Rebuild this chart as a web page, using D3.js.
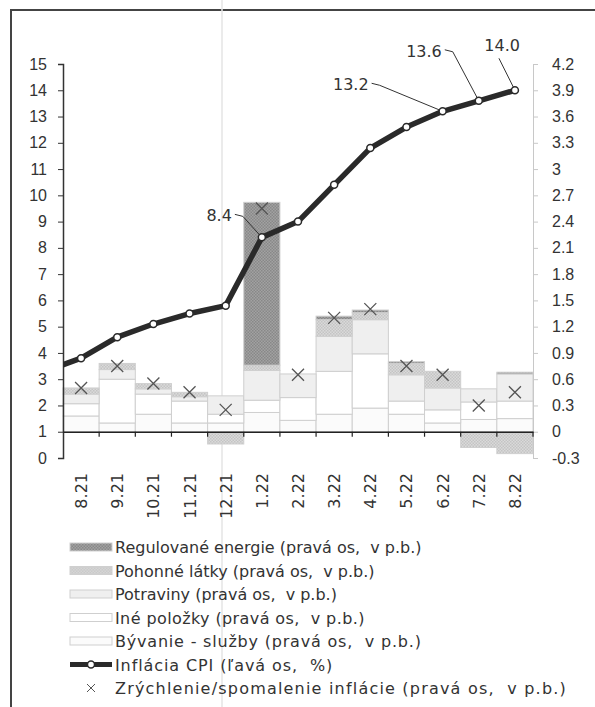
<!DOCTYPE html>
<html>
<head>
<meta charset="utf-8">
<script src="https://d3js.org/d3.v7.min.js"></script>
<style>
    html, body { margin: 0; padding: 0; background: #fff; }
    svg { display: block; font-family: "DejaVu Sans", Verdana, sans-serif; }
    .tick text { font-size: 16px; fill: #333; }
    .leg { font-size: 16px; fill: #333; white-space: pre; }
    .lab { font-size: 16px; fill: #333; }
</style>
</head>
<body>
<svg width="595" height="707"></svg>
<script>
    // months
    let months = ['8.21','9.21','10.21','11.21','12.21','1.22','2.22','3.22','4.22','5.22','6.22','7.22','8.22'];
    // CPI inflation, left axis (%); prevCpi = 7.21, drawn off the left edge
    let prevCpi = 3.3;
    let cpi = [3.8, 4.6, 5.1, 5.5, 5.8, 8.4, 9.0, 10.4, 11.8, 12.6, 13.2, 13.6, 14.0];
    // contributions, right axis (p.b.)
    let byvanie    = [0.18, 0.10, 0.20, 0.10, 0.10, 0.22, 0.13, 0.20, 0.27, 0.20, 0.10, 0.14, 0.15];
    let ine        = [0.14, 0.50, 0.23, 0.25, 0.10, 0.14, 0.26, 0.49, 0.62, 0.15, 0.15, 0.20, 0.20];
    let potraviny  = [0.11, 0.11, 0.06, 0.05, 0.21, 0.34, 0.27, 0.40, 0.39, 0.30, 0.25, 0.15, 0.31];
    let pohonne    = [0.07, 0.07, 0.06, 0.05, -0.14, 0.06, 0.00, 0.19, 0.08, 0.13, 0.19, -0.18, -0.25];
    let regulovane = [0.00, 0.00, 0.00, 0.00, 0.00, 1.86, 0.00, 0.04, 0.03, 0.02, 0.00, 0.00, 0.02];
    // acceleration / deceleration of inflation, right axis
    let zrychlenie = [0.50, 0.75, 0.55, 0.45, 0.25, 2.55, 0.65, 1.30, 1.40, 0.75, 0.65, 0.30, 0.45];
    let leftTicks = d3.range(0, 16);
    let rightTicks = d3.range(-3, 43, 3).map(v => v / 10);
    let labelled = ['1.22', '6.22', '7.22', '8.22'];

    let svg = d3.select('svg');
    let defs = svg.append('defs');

    // dotted fills like the scanned print
    function dots(id, bg, fg) {
        let p = defs.append('pattern').attr('id', id).attr('width', 3).attr('height', 3)
                    .attr('patternUnits', 'userSpaceOnUse');
        p.append('rect').attr('width', 3).attr('height', 3).attr('fill', bg);
        p.append('rect').attr('width', 1.5).attr('height', 1.5).attr('fill', fg);
        p.append('rect').attr('x', 1.5).attr('y', 1.5).attr('width', 1.5).attr('height', 1.5).attr('fill', fg);
    }
    dots('pReg', '#a2a2a2', '#888');
    dots('pPoh', '#dadada', '#c4c4c4');

    let series = [
        {key: 'byvanie',    name: 'Bývanie - služby (pravá os,  v p.b.)',   values: byvanie,    fill: '#fbfbfb'},
        {key: 'ine',        name: 'Iné položky (pravá os,  v p.b.)',        values: ine,        fill: '#ffffff'},
        {key: 'potraviny',  name: 'Potraviny (pravá os,  v p.b.)',          values: potraviny,  fill: '#efefef'},
        {key: 'pohonne',    name: 'Pohonné látky (pravá os,  v p.b.)',      values: pohonne,    fill: 'url(#pPoh)'},
        {key: 'regulovane', name: 'Regulované energie (pravá os,  v p.b.)', values: regulovane, fill: 'url(#pReg)'}
    ];

    let rows = months.map((m, i) => {
        let r = {month: m};
        series.forEach(s => r[s.key] = s.values[i]);
        return r;
    });

    let x = d3.scaleBand().domain(months).range([63, 533]).padding(0);
    let yL = d3.scaleLinear().domain([0, 15]).range([458, 64]);
    let yR = d3.scaleLinear().domain([-0.3, 4.2]).range([458, 64]);

    // frame and scan line
    svg.append('rect').attr('x', 11).attr('y', 10).attr('width', 600).attr('height', 720)
       .attr('fill', 'none').attr('stroke', '#444').attr('stroke-width', 2);
    svg.append('line').attr('x1', 222).attr('x2', 222).attr('y1', 0).attr('y2', 707)
       .attr('stroke', '#e4e4e4').attr('stroke-width', 1.5);

    // stacked bars
    let stack = d3.stack().keys(series.map(s => s.key)).offset(d3.stackOffsetDiverging)(rows);
    svg.append('g').selectAll('g')
       .data(stack)
       .join('g')
       .attr('fill', (d, i) => series[i].fill)
       .selectAll('rect')
       .data(d => d.filter(v => v[1] - v[0] !== 0))
       .join('rect')
       .attr('x', d => x(d.data.month))
       .attr('width', x.bandwidth())
       .attr('y', d => yR(Math.max(d[0], d[1])))
       .attr('height', d => Math.abs(yR(d[0]) - yR(d[1])))
       .attr('stroke', '#cfcfcf')
       .attr('stroke-width', 1);

    // axes
    let axL = svg.append('g').attr('transform', 'translate(63,0)')
                 .call(d3.axisLeft(yL).tickValues(leftTicks).tickSize(5).tickPadding(11));
    axL.select('.domain').attr('stroke', '#333').attr('stroke-width', 1.5);
    axL.selectAll('.tick line').attr('stroke', '#333');

    let axR = svg.append('g').attr('transform', 'translate(533,0)')
                 .call(d3.axisRight(yR).tickValues(rightTicks).tickSize(5).tickPadding(14)
                         .tickFormat(d => String(+d.toFixed(1))));
    axR.select('.domain').attr('stroke', '#c8c8c8');
    axR.selectAll('.tick line').attr('stroke', '#c8c8c8');

    // zero line of the right axis with category ticks
    let axX = svg.append('g').attr('transform', `translate(0,${yR(0)})`)
                 .call(d3.axisBottom(x).tickSize(0).tickFormat(''));
    axX.select('.domain').attr('stroke', '#222').attr('stroke-width', 1.5);
    svg.append('g').selectAll('line')
       .data(months.slice(1).concat(['end']))
       .join('line')
       .attr('x1', d => d === 'end' ? 533 : x(d))
       .attr('x2', d => d === 'end' ? 533 : x(d))
       .attr('y1', yR(0)).attr('y2', yR(0) + 5)
       .attr('stroke', '#222').attr('stroke-width', 1.2);

    // month labels, rotated
    svg.append('g').selectAll('text')
       .data(months)
       .join('text')
       .attr('class', 'lab')
       .attr('transform', d => `translate(${x(d) + x.bandwidth() / 2 + 6},473) rotate(-90)`)
       .attr('text-anchor', 'end')
       .text(d => d);

    // CPI line, with the previous month off the left edge
    let cx = i => x(months[0]) + x.bandwidth() / 2 + (i) * x.bandwidth();
    let linePts = [[cx(-1), yL(prevCpi)]].concat(cpi.map((v, i) => [cx(i), yL(v)]));
    defs.append('clipPath').attr('id', 'plot')
        .append('rect').attr('x', 63).attr('y', 0).attr('width', 480).attr('height', 707);
    svg.append('path')
       .attr('clip-path', 'url(#plot)')
       .attr('d', d3.line()(linePts))
       .attr('fill', 'none').attr('stroke', '#2a2a2a').attr('stroke-width', 5.5)
       .attr('stroke-linejoin', 'round');

    // data labels with leader lines
    let labelPos = {'1.22': [-30, -22], '6.22': [-74, -27], '7.22': [-37, -50], '8.22': [-18, -45]};
    let lab = svg.append('g');
    labelled.forEach(m => {
        let i = months.indexOf(m);
        let px = cx(i), py = yL(cpi[i]);
        let [dx, dy] = labelPos[m];
        let tx = px + dx, ty = py + dy;
        let pts = m === '8.22' ? [[tx + 2, ty + 13], [px, py]] : [[tx + 3, ty - 1], [tx + 11, ty + 1], [px, py]];
        lab.append('path').attr('d', d3.line()(pts)).attr('fill', 'none')
           .attr('stroke', '#333').attr('stroke-width', 1);
        lab.append('text').attr('class', 'lab')
           .attr('x', m === '8.22' ? tx + 23 : tx)
           .attr('y', ty + 6)
           .attr('text-anchor', 'end')
           .text(cpi[i].toFixed(1));
    });

    svg.append('g').selectAll('circle')
       .data(cpi)
       .join('circle')
       .attr('cx', (d, i) => cx(i)).attr('cy', d => yL(d)).attr('r', 3.5)
       .attr('fill', '#fff').attr('stroke', '#2a2a2a').attr('stroke-width', 1.5);

    // acceleration markers
    svg.append('g').selectAll('path')
       .data(zrychlenie)
       .join('path')
       .attr('transform', (d, i) => `translate(${cx(i)},${yR(d)})`)
       .attr('d', 'M-6,-6L6,6M-6,6L6,-6')
       .attr('stroke', '#555').attr('stroke-width', 1.3);

    // legend (scan has looser letter spacing in the lower rows)
    let legSpacing = [0, 0, 0, 0.4, 0.8, 0.9, 1.2];
    let legItems = series.slice().reverse().map(s => ({name: s.name, fill: s.fill, type: 'bar'}))
        .concat([{name: 'Inflácia CPI (ľavá os,  %)', type: 'line'},
                 {name: 'Zrýchlenie/spomalenie inflácie (pravá os,  v p.b.)', type: 'x'}]);
    let leg = svg.append('g').selectAll('g')
                 .data(legItems)
                 .join('g')
                 .attr('transform', (d, i) => `translate(70,${547 + i * 23.5})`);
    leg.filter(d => d.type === 'bar').append('rect')
       .attr('x', 0).attr('y', -4).attr('width', 42).attr('height', 8)
       .attr('fill', d => d.fill).attr('stroke', '#cfcfcf');
    leg.filter(d => d.type === 'line').append('line')
       .attr('x1', 0).attr('x2', 42).attr('stroke', '#2a2a2a').attr('stroke-width', 5);
    leg.filter(d => d.type === 'line').append('circle')
       .attr('cx', 21).attr('r', 3.5).attr('fill', '#fff').attr('stroke', '#2a2a2a').attr('stroke-width', 1.5);
    leg.filter(d => d.type === 'x').append('path')
       .attr('d', 'M17,-4L25,4M17,4L25,-4').attr('stroke', '#555').attr('stroke-width', 1);
    leg.append('text').attr('class', 'leg')
       .attr('x', 45).attr('y', 6)
       .attr('letter-spacing', (d, i) => legSpacing[i])
       .text(d => d.name);
</script>
</body>
</html>
